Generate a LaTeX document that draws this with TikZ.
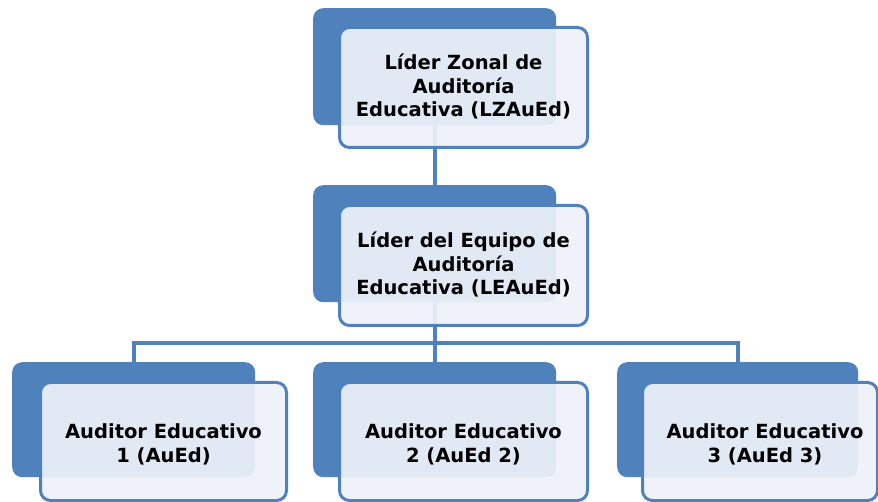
\documentclass[tikz,border=0pt]{standalone}
\usepackage{fontspec}
\setmainfont{DejaVu Sans}
\definecolor{boxblue}{HTML}{4F81BD}
\definecolor{frontfill}{HTML}{EEF2F9}
\begin{document}
\begin{tikzpicture}[x=1pt,y=-1pt,
  backbox/.style={fill=boxblue, draw=none, rounded corners=10pt},
  frontbox/.style={fill=frontfill, fill opacity=0.92, draw=boxblue, line width=3pt, rounded corners=10pt, text opacity=1},
  lbl/.style={align=center, font=\fontsize{19.5}{23.5}\selectfont\bfseries, text=black},
  conn/.style={draw=boxblue, line width=4pt}]
\useasboundingbox (0,0) rectangle (878,502);
% back rectangles as nodes
\node[backbox, minimum width=243pt, minimum height=117pt, anchor=north west] (b1) at (313,8) {};
\node[backbox, minimum width=243pt, minimum height=117pt, anchor=north west] (b2) at (313,185) {};
\node[backbox, minimum width=243pt, minimum height=115pt, anchor=north west] (b3) at (12,362) {};
\node[backbox, minimum width=243pt, minimum height=115pt, anchor=north west] (b4) at (313,362) {};
\node[backbox, minimum width=241pt, minimum height=115pt, anchor=north west] (b5) at (617,362) {};
% connectors
\coordinate (busL) at (b3.north |- 0,343);
\coordinate (busM) at (b2.south |- 0,343);
\coordinate (busR) at (b5.north |- 0,343);
\draw[conn] (b1.south) -- (b2.north);
\draw[conn] (b2.south) -- (b4.north);
\draw[conn, line cap=rect] (b3.north) -- (busL) -- (busR) -- (b5.north);
% front boxes
\node[frontbox, minimum width=248pt, minimum height=120pt, anchor=north west] (f1) at (338,26) {};
\node[frontbox, minimum width=248pt, minimum height=120pt, anchor=north west] (f2) at (338,204) {};
\node[frontbox, minimum width=246pt, minimum height=118pt, anchor=north west] (f3) at (39,381) {};
\node[frontbox, minimum width=248pt, minimum height=118pt, anchor=north west] (f4) at (338,381) {};
\node[frontbox, minimum width=235pt, minimum height=118pt, anchor=north west] (f5) at (641,381) {};
% labels
\node[lbl] (t1) at ([yshift=1pt]f1.center) {Líder Zonal de\\Auditoría\\Educativa (LZAuEd)};
\node[lbl] (t2) at ([yshift=1pt]f2.center) {Líder del Equipo de\\Auditoría\\Educativa (LEAuEd)};
\node[lbl] (t3) at ([yshift=-3pt]f3.center) {Auditor Educativo\\1 (AuEd)};
\node[lbl] (t4) at ([yshift=-3pt]f4.center) {Auditor Educativo\\2 (AuEd 2)};
\node[lbl] (t5) at ([yshift=-3pt,xshift=5pt]f5.center) {Auditor Educativo\\3 (AuEd 3)};
\end{tikzpicture}
\end{document}
